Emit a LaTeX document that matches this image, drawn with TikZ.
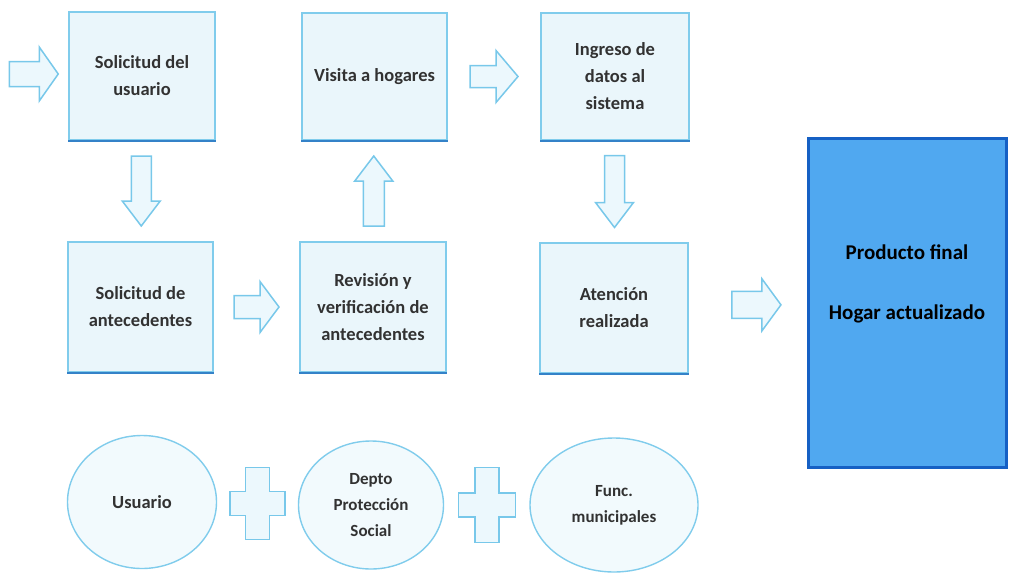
\documentclass[tikz,border=0pt]{standalone}
\usepackage{fontspec}
\setmainfont{Carlito}
\usetikzlibrary{calc,shapes.geometric}

\definecolor{boxfill}{RGB}{234,246,251}
\definecolor{boxline}{RGB}{128,204,236}
\definecolor{boxedge}{RGB}{52,130,200}
\definecolor{prodfill}{RGB}{80,168,240}
\definecolor{prodline}{RGB}{22,96,196}
\definecolor{txt}{RGB}{50,50,50}
\definecolor{arrfill}{RGB}{236,248,253}
\definecolor{arrline}{RGB}{120,200,234}

% block arrow: centre, rotation, length, shaft width, head width, head length
\newcommand\blockarr[6]{%
  \draw[arrowshape, shift={(#1)}, rotate=#2]
    (-#3/2,-#4/2) -- (#3/2-#6,-#4/2) -- (#3/2-#6,-#5/2) -- (#3/2,0)
    -- (#3/2-#6,#5/2) -- (#3/2-#6,#4/2) -- (-#3/2,#4/2) -- cycle;}

% plus sign: centre, width, height, arm thickness
\newcommand\plussign[4]{%
  \draw[arrowshape, shift={(#1)}]
    (-#4/2,-#3/2) -- (#4/2,-#3/2) -- (#4/2,-#4/2) -- (#2/2,-#4/2)
    -- (#2/2,#4/2) -- (#4/2,#4/2) -- (#4/2,#3/2) -- (-#4/2,#3/2)
    -- (-#4/2,#4/2) -- (-#2/2,#4/2) -- (-#2/2,-#4/2) -- (-#4/2,-#4/2) -- cycle;}

\begin{document}
\begin{tikzpicture}[x=1pt,y=-1pt,
  stepbox/.style={draw=boxline, fill=boxfill, line width=1.5pt, inner sep=0pt,
    align=center, text=txt, font=\bfseries\fontsize{18.5}{27}\selectfont},
  darkedge/.style={draw=boxedge, line width=2pt},
  prodbox/.style={draw=prodline, fill=prodfill, line width=3pt, inner sep=0pt,
    minimum width=198pt, minimum height=329pt},
  prodtext/.style={align=center, text=black, font=\bfseries\fontsize{21}{30}\selectfont},
  actor/.style={ellipse, draw=boxline, fill=boxfill!60!white, line width=1.4pt,
    inner sep=0pt, align=center, text=txt, font=\bfseries\fontsize{17}{26}\selectfont},
  arrowshape/.style={draw=arrline, fill=arrfill, line width=1.5pt, line join=miter}]

\useasboundingbox (0,0) rectangle (1015,581);
\fill[white] (0,0) rectangle (1015,581);

% process steps
\node[stepbox, minimum width=146pt, minimum height=128pt] (b1) at (142,76) {Solicitud del\\usuario};
\node[stepbox, minimum width=145pt, minimum height=127pt] (b2) at (374.5,76.5) {Visita a hogares};
\node[stepbox, minimum width=148pt, minimum height=127pt] (b3) at (615,76.5) {Ingreso de\\datos al\\sistema};
\node[stepbox, minimum width=145pt, minimum height=130pt] (b4) at (140.5,307) {Solicitud de\\antecedentes};
\node[stepbox, minimum width=146pt, minimum height=130pt] (b5) at (373,307) {Revisión y\\verificación de\\antecedentes};
\node[stepbox, minimum width=148pt, minimum height=130pt] (b6) at (614,308) {Atención\\realizada};

\foreach \b in {b1,b2,b3,b4,b5,b6}
  \draw[darkedge] (\b.south west) -- (\b.south east);

% final product
\node[prodbox] (prod) at (907,302.5) {};
\node[prodtext] (prodlbl) at ($(prod.center)+(0,-19)$) {Producto final\\[30pt]Hogar actualizado};

% participants
\node[actor, minimum width=149pt, minimum height=133pt, font=\bfseries\fontsize{18.5}{26}\selectfont] (u) at (142,502) {Usuario};
\node[actor, minimum width=145pt, minimum height=128pt] (d) at (371,505) {Depto\\Protección\\Social};
\node[actor, minimum width=168pt, minimum height=134pt] (f) at (614,505) {Func.\\municipales};

% flow arrows
\coordinate (a0) at ($(b1.west)+(-34.5,-2)$);
\coordinate (a1) at ($(b1.south)!0.5!(b4.north)$);
\coordinate (a2) at ($(b4.east)!0.5!(b5.west)$);
\coordinate (a3) at ($(b5.north)!0.5!(b2.south)$);
\coordinate (a4) at ($(b2.east)!0.5!(b3.west)$);
\coordinate (a5) at ($(b3.south)!0.5!(b6.north)$);
\coordinate (a6) at ($(b6.east)!0.575!(prod.west)$);

\blockarr{a0}{0}{49}{25}{54}{19}
\blockarr{a1}{-90}{70}{20}{38}{25}
\blockarr{a2}{0}{45}{23}{51}{19}
\blockarr{a3}{90}{70}{21}{38}{25}
\blockarr{a4}{0}{48}{22}{52}{22}
\blockarr{a5}{-90}{72}{20}{38}{25}
\blockarr{a6}{0}{49}{27}{52}{19}

% plus signs between participants
\coordinate (p1) at ($(u.east)!0.5!(d.west)$);
\coordinate (p2) at ($(d.east)!0.5!(f.west)$);
\plussign{p1}{55}{72}{24}
\plussign{p2}{57}{75}{24}

\end{tikzpicture}
\end{document}
